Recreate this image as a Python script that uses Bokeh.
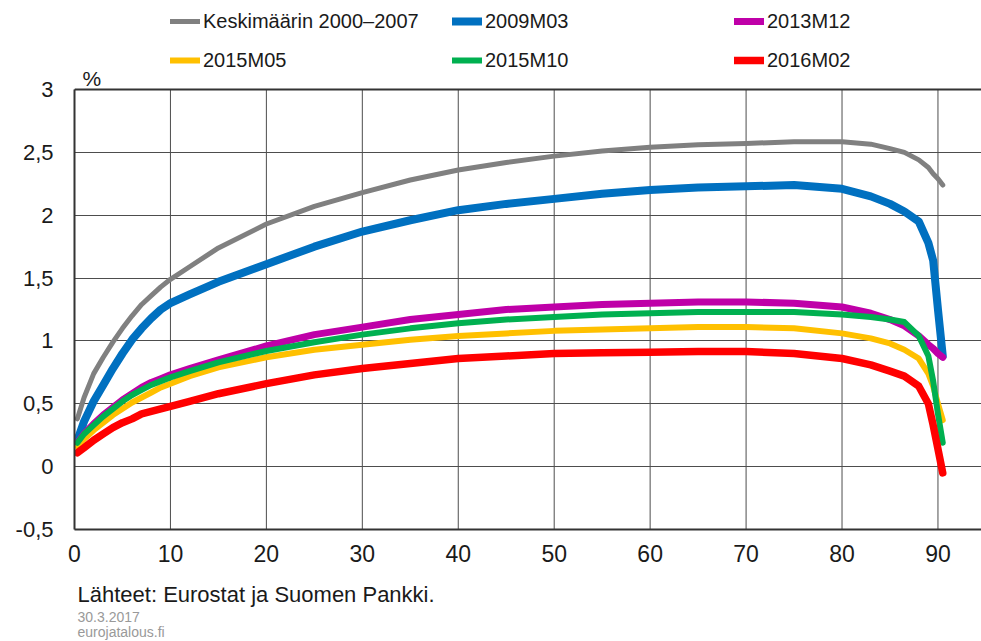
from bokeh.plotting import figure
from bokeh.models import FixedTicker, Span, Range1d, Label, Legend, LegendItem
from bokeh.layouts import column
from bokeh.core.properties import value
from bokeh.embed import file_html
from bokeh.resources import INLINE

# ---------------- data ----------------
maturity = [0.3, 1, 2, 3, 4, 5, 6, 7, 8, 9, 10, 12, 15, 20, 25, 30, 35, 40, 45, 50,
            55, 60, 65, 70, 75, 80, 83, 85, 86.5, 88, 89, 89.5, 90, 90.5]

avg_2000_2007 = [0.38, 0.55, 0.74, 0.87, 0.99, 1.10, 1.20, 1.29, 1.36, 1.43, 1.49, 1.59, 1.74,
                 1.93, 2.07, 2.18, 2.28, 2.36, 2.42, 2.47, 2.51, 2.54, 2.56, 2.57, 2.585,
                 2.585, 2.565, 2.53, 2.50, 2.44, 2.38, 2.33, 2.29, 2.24]
m2009_03 = [0.21, 0.36, 0.52, 0.65, 0.78, 0.90, 1.01, 1.10, 1.18, 1.25, 1.30, 1.37, 1.47,
            1.61, 1.75, 1.87, 1.96, 2.04, 2.09, 2.13, 2.17, 2.20, 2.22, 2.23, 2.24,
            2.21, 2.15, 2.09, 2.03, 1.95, 1.78, 1.64, 1.25, 0.88]
m2013_12 = [0.19, 0.26, 0.34, 0.41, 0.47, 0.53, 0.58, 0.63, 0.67, 0.70, 0.73, 0.78, 0.85,
            0.96, 1.05, 1.11, 1.17, 1.21, 1.25, 1.27, 1.29, 1.30, 1.31, 1.31, 1.30,
            1.27, 1.22, 1.17, 1.12, 1.04, 0.97, 0.94, 0.90, 0.87]
m2015_05 = [0.16, 0.22, 0.29, 0.35, 0.41, 0.46, 0.51, 0.55, 0.59, 0.63, 0.66, 0.72, 0.79,
            0.87, 0.93, 0.97, 1.01, 1.04, 1.06, 1.08, 1.09, 1.10, 1.11, 1.11, 1.10,
            1.06, 1.02, 0.98, 0.93, 0.86, 0.74, 0.64, 0.50, 0.37]
m2015_10 = [0.19, 0.26, 0.33, 0.40, 0.46, 0.52, 0.57, 0.61, 0.65, 0.68, 0.71, 0.76, 0.83,
            0.92, 0.99, 1.05, 1.10, 1.14, 1.17, 1.19, 1.21, 1.22, 1.23, 1.23, 1.23,
            1.21, 1.19, 1.17, 1.15, 1.04, 0.88, 0.68, 0.42, 0.19]
m2016_02 = [0.11, 0.15, 0.21, 0.26, 0.31, 0.35, 0.38, 0.42, 0.44, 0.46, 0.48, 0.52, 0.58,
            0.66, 0.73, 0.78, 0.82, 0.86, 0.88, 0.90, 0.905, 0.91, 0.915, 0.915, 0.90,
            0.86, 0.81, 0.76, 0.72, 0.64, 0.50, 0.33, 0.14, -0.05]

series_names = ["Keskimäärin 2000–2007", "2009M03", "2013M12", "2015M05", "2015M10", "2016M02"]
series_values = [avg_2000_2007, m2009_03, m2013_12, m2015_05, m2015_10, m2016_02]
series_colors = ["#808080", "#0070C0", "#BF00A8", "#FFC000", "#00B050", "#FF0000"]
series_widths = [5, 8, 7, 6, 6, 7.5]

x_ticks = [0, 10, 20, 30, 40, 50, 60, 70, 80, 90]
y_ticks = [-0.5, 0, 0.5, 1, 1.5, 2, 2.5, 3]
y_tick_labels = ["-0,5", "0", "0,5", "1", "1,5", "2", "2,5", "3"]
Y_MIN, Y_MAX = -0.5, 3.0

unit_label = "%"
footer_texts = ["Lähteet: Eurostat ja Suomen Pankki.", "30.3.2017", "eurojatalous.fi"]

# ---------------- layout constants (pixels) ----------------
FONT = "Liberation Sans"
TXT = "#1a1a1a"
W = 981
FRAME_L = 74          # left edge of plotting area
FRAME_T = 89          # y = 3 line
FRAME_B = 529         # y = -0.5 line
FOOT_TOP = 572
TOTAL_H = 641
PX_PER_X = 9.594
PX_PER_Y = (FRAME_B - FRAME_T) / (Y_MAX - Y_MIN)
X_END = (W - FRAME_L) / PX_PER_X
Y_TOP = Y_MIN + FRAME_B / PX_PER_Y     # value at canvas top (space for legend)


def dx(px):
    return (px - FRAME_L) / PX_PER_X


def dy(py):
    return Y_MIN + (FRAME_B - py) / PX_PER_Y


# ---------------- main chart ----------------
p = figure(width=W, height=FOOT_TOP, output_backend="svg", toolbar_location=None,
           title=None, x_range=Range1d(0, X_END), y_range=Range1d(Y_MIN, Y_TOP),
           min_border_left=FRAME_L, min_border_right=0,
           min_border_top=0, min_border_bottom=FOOT_TOP - FRAME_B)
p.outline_line_color = None
p.background_fill_color = "white"
p.border_fill_color = "white"

for ax in (p.xaxis, p.yaxis):
    ax.axis_line_color = "#333333"
    ax.axis_line_width = 2
    ax.major_tick_in = 0
    ax.major_tick_out = 0
    ax.minor_tick_in = 0
    ax.minor_tick_out = 0
    ax.major_label_text_font = FONT
    ax.major_label_text_color = TXT

p.xaxis.ticker = FixedTicker(ticks=x_ticks)
p.yaxis.ticker = FixedTicker(ticks=y_ticks)
p.yaxis.bounds = (Y_MIN, Y_MAX)
p.yaxis.major_label_overrides = {float(t): l for t, l in zip(y_ticks, y_tick_labels)}
p.xaxis.major_label_text_font_size = "23px"
p.yaxis.major_label_text_font_size = "22px"
p.xaxis.major_label_standoff = 15
p.yaxis.major_label_standoff = 21

# horizontal grid from the axis ticker, vertical grid limited to the value range
p.xgrid.visible = False
p.ygrid.ticker = FixedTicker(ticks=y_ticks)
p.ygrid.grid_line_color = "#4d4d4d"
p.ygrid.grid_line_width = 1
vg = p.segment(x0=x_ticks, y0=[Y_MIN] * len(x_ticks), x1=x_ticks, y1=[Y_MAX] * len(x_ticks),
               line_color="#4d4d4d", line_width=1)
vg.level = "underlay"

p.add_layout(Span(location=Y_MAX, dimension="width", line_color="#333333", line_width=2))

renderers = []
for vals, colr, lw in zip(series_values, series_colors, series_widths):
    renderers.append(p.line(maturity, vals, line_color=colr, line_width=lw,
                            line_cap="round", line_join="round"))

# legend: 2 rows x 3 columns above the plotting area
col_x = [170, 452, 734]
row_cy = [21, 60]
ITEM_H = 24
for i, (name, r) in enumerate(zip(series_names, renderers)):
    vx = col_x[i % 3] - FRAME_L
    vy = FRAME_B - (row_cy[i // 3] + ITEM_H / 2)
    p.add_layout(Legend(items=[LegendItem(label=name, renderers=[r])], location=(vx, vy),
                        orientation="vertical", glyph_width=30, glyph_height=ITEM_H,
                        label_height=ITEM_H, label_standoff=3, padding=0, margin=0,
                        spacing=0, border_line_color=None, background_fill_alpha=0,
                        label_text_font=FONT, label_text_font_size="20px",
                        label_text_color=TXT, label_text_baseline="middle"))

p.add_layout(Label(x=dx(82), y=dy(78), text=unit_label, text_font=FONT,
                   text_font_size="21px", text_color=TXT,
                   text_align="left", text_baseline="middle"))

# ---------------- footer strip ----------------
foot = figure(width=W, height=TOTAL_H - FOOT_TOP, output_backend="svg", toolbar_location=None,
              x_range=Range1d(FRAME_L, W), y_range=Range1d(TOTAL_H, FOOT_TOP),
              x_axis_type=None, y_axis_type=None, title=None,
              min_border_left=FRAME_L, min_border_right=0,
              min_border_top=0, min_border_bottom=0)
foot.outline_line_color = None
foot.grid.visible = False
foot.text(x=[77], y=[594], text=[footer_texts[0]], text_font=value(FONT),
          text_font_size="22px", text_color=TXT, text_align="left",
          text_baseline="alphabetic")
foot.text(x=[77, 77], y=[616, 631], text=footer_texts[1:], text_font=value(FONT),
          text_font_size="14px", text_color="#999999", text_align="left",
          text_baseline="alphabetic")

layout = column(p, foot, spacing=0)
open("out.html", "w").write(file_html(layout, INLINE))
